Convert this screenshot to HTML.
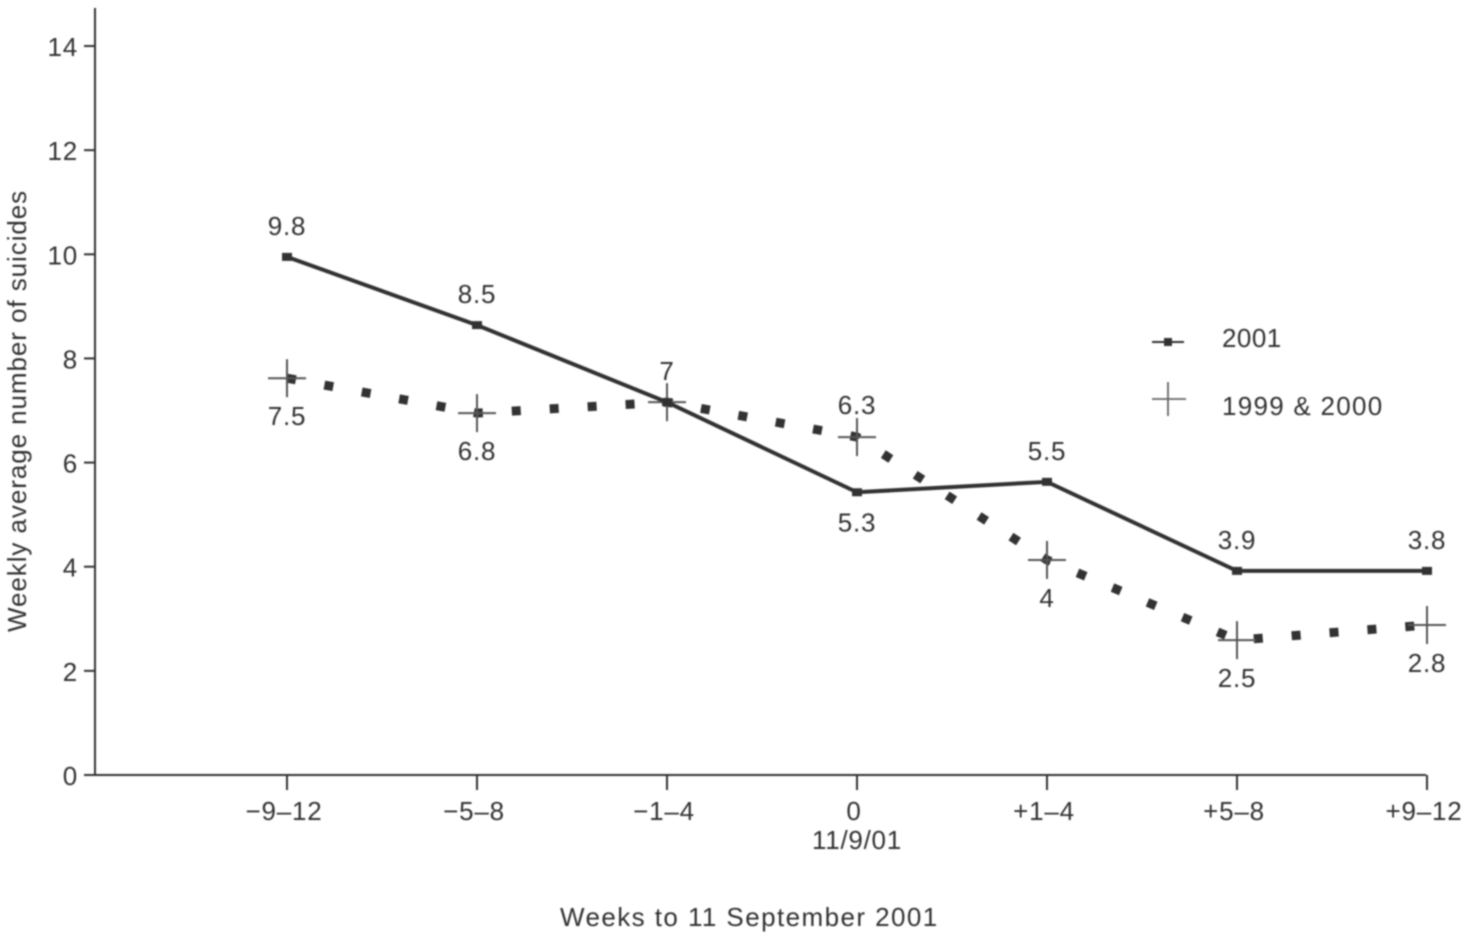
<!DOCTYPE html>
<html lang="en">
<head>
<meta charset="utf-8">
<title>Weekly average number of suicides</title>
<style>
html,body{margin:0;padding:0;background:#fff;}
svg{display:block;}
text{font-family:"Liberation Sans",sans-serif;fill:#333;font-size:26px;letter-spacing:0.8px;}
</style>
</head>
<body>
<svg id="chart" width="1462" height="948" viewBox="0 0 1462 948" xmlns="http://www.w3.org/2000/svg">
  <defs><filter id="soft" x="-5%" y="-5%" width="110%" height="110%"><feGaussianBlur stdDeviation="0.8"/></filter></defs>
  <g id="root" filter="url(#soft)">
    <text transform="translate(26,411) rotate(-90)" text-anchor="middle" textLength="442" lengthAdjust="spacing">Weekly average number of suicides</text>
    <text x="749" y="926" text-anchor="middle" textLength="378" lengthAdjust="spacing">Weeks to 11 September 2001</text>
    <text x="857" y="849" text-anchor="middle" textLength="90" lengthAdjust="spacing">11/9/01</text>
    <g>
      <line x1="1152" y1="342" x2="1184" y2="342" stroke="#333" stroke-width="2"/>
      <rect x="1164" y="338" width="8" height="8" fill="#333"/>
      <text x="1222" y="347" textLength="60" lengthAdjust="spacing">2001</text>
      <line x1="1152" y1="399" x2="1186" y2="399" stroke="#666" stroke-width="1.8"/>
      <line x1="1168" y1="382" x2="1168" y2="416" stroke="#666" stroke-width="1.8"/>
      <text x="1222" y="415" textLength="161" lengthAdjust="spacing">1999 &amp; 2000</text>
    </g>
  </g>
</svg>
<script>
const categories = ['\u22129\u201312', '\u22125\u20138', '\u22121\u20134', '0', '+1\u20134', '+5\u20138', '+9\u201312'];
const yTicks = [0, 2, 4, 6, 8, 10, 12, 14];
const series2001 = [9.95, 8.64, 7.16, 5.43, 5.63, 3.92, 3.92];
const series1999 = [7.62, 6.95, 7.16, 6.49, 4.13, 2.59, 2.88];
const labels2001 = ['9.8', '8.5', '7', '5.3', '5.5', '3.9', '3.8'];
const labels1999 = ['7.5', '6.8', '', '6.3', '4', '2.5', '2.8'];
const sides2001 = ['above', 'above', 'above', 'below', 'above', 'above', 'above'];
const sides1999 = ['below', 'below', 'below', 'above', 'below', 'below', 'below'];

const root = document.getElementById('root');
const NS = 'http://www.w3.org/2000/svg';
const xScale = function (i) { return 287 + i * (1427 - 287) / (categories.length - 1); };
const yScale = function (v) { return 775 - v * 52.07; };

function make(tag, attrs, parent) {
  const el = document.createElementNS(NS, tag);
  Object.keys(attrs).forEach(function (k) { el.setAttribute(k, attrs[k]); });
  (parent || root).appendChild(el);
  return el;
}

// axes
const yAxis = make('line', { x1: 95, y1: 8, x2: 95, y2: yScale(0), stroke: '#333', 'stroke-width': 2 });


const xAxis = make('line', { x1: 95, y1: yScale(0), x2: 1426, y2: yScale(0), stroke: '#333', 'stroke-width': 2 });



yTicks.forEach(function (t) {
  const tick = make('line', { x1: 84, y1: yScale(t), x2: 95, y2: yScale(t), stroke: '#333', 'stroke-width': 2 });
  
  
  const lab = make('text', { x: 78, y: yScale(t) + 10, 'text-anchor': 'end' });
  lab.textContent = String(t);
  
  
});

categories.forEach(function (c, i) {
  const tick = make('line', { x1: xScale(i), y1: yScale(0), x2: xScale(i), y2: 790, stroke: '#333', 'stroke-width': 2 });
  
  
  const lab = make('text', { x: xScale(i) - 3, y: 820, 'text-anchor': 'middle' });
  lab.textContent = c;
  
  
});

function pathFrom(values) {
  return values.map(function (v, i) {
    return (i ? 'L' : 'M') + xScale(i) + ' ' + yScale(v);
  }).join(' ');
}

// 1999 & 2000 dotted series
const dotted = make('path', { d: pathFrom(series1999), fill: 'none', stroke: '#333', 'stroke-width': 9, 'stroke-dasharray': '9 29' });



series1999.forEach(function (v, i) {
  const cx = xScale(i), cy = yScale(v);
  const h = make('line', { x1: cx - 19, y1: cy, x2: cx + 19, y2: cy, stroke: '#555', 'stroke-width': 2 });
  
  
  const w = make('line', { x1: cx, y1: cy - 19, x2: cx, y2: cy + 19, stroke: '#555', 'stroke-width': 2 });
  
  
  if (labels1999[i]) {
    const off = sides1999[i] === 'above' ? -23 : 47;
    const lab = make('text', { x: cx, y: cy + off, 'text-anchor': 'middle' });
    lab.textContent = labels1999[i];
    
    
  }
});

// 2001 solid series
const solid = make('path', { d: pathFrom(series2001), fill: 'none', stroke: '#333', 'stroke-width': 4 });



series2001.forEach(function (v, i) {
  const cx = xScale(i), cy = yScale(v);
  const m = make('rect', { x: cx - 5, y: cy - 4, width: 10, height: 8, fill: '#333' });
  
  
  const off = sides2001[i] === 'above' ? -22 : 39;
  const lab = make('text', { x: cx, y: cy + off, 'text-anchor': 'middle' });
  lab.textContent = labels2001[i];
  
  
});
</script>
</body>
</html>
